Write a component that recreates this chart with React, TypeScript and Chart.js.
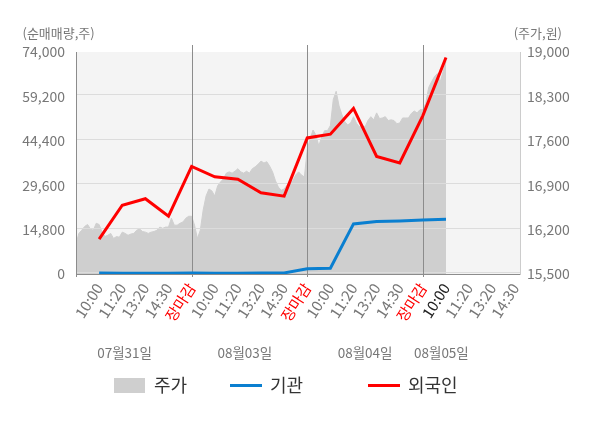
import { useEffect, useRef } from 'react';
import { Chart, registerables } from 'chart.js';

Chart.register(...registerables);

const FONT = '"Noto Sans CJK KR", "Noto Sans", sans-serif';

// x axis slots (one label per slot)
const timeLabels = [
  '10:00', '11:20', '13:20', '14:30', '장마감',
  '10:00', '11:20', '13:20', '14:30', '장마감',
  '10:00', '11:20', '13:20', '14:30', '장마감',
  '10:00', '11:20', '13:20', '14:30',
];
const dateLabels = ['07월31일', '08월03일', '08월04일', '08월05일'];
const currentSlot = 15;

// net buying (shares), one value per slot
const foreignNet = [11600, 22930, 25100, 19250, 35850, 32400, 31600, 27100, 25950, 45350, 46600, 55200, 39200, 37000, 52800, 72150];
const instNet = [300, 250, 280, 260, 300, 290, 280, 300, 350, 1750, 1950, 16700, 17500, 17700, 18000, 18250];

// intraday price (won), sampled evenly across each session
const priceDay1 = [15980, 16140, 16190, 16250, 16280, 16210, 16190, 16300, 16280, 16160, 16090, 16110, 16140, 16060, 16090, 16080, 16160, 16140, 16110, 16130, 16140, 16190, 16210, 16170, 16160, 16140, 16160, 16170, 16190, 16240, 16220, 16240, 16240, 16380, 16270, 16270, 16300, 16320, 16380, 16410];
const priceDay2 = [16410, 16270, 16060, 16190, 16510, 16730, 16840, 16810, 16730, 16890, 16950, 17000, 17090, 17110, 17090, 17120, 17160, 17110, 17090, 17120, 17090, 17160, 17190, 17230, 17280, 17250, 17270, 17200, 17110, 16970, 16870, 16820, 16840, 16900, 16930, 16970, 17060, 17110, 17060, 17030];
const priceDay3 = [17460, 17630, 17770, 17690, 17520, 17660, 17760, 17760, 17840, 18250, 18380, 18150, 18010, 17900, 17850, 17880, 17980, 17880, 17820, 17840, 17820, 17920, 17980, 17930, 18040, 17950, 17960, 17980, 17920, 17930, 17920, 17870, 17880, 17960, 17960, 17960, 18030, 18070, 18040, 18090];
const priceDay4 = [18090, 18190, 18440, 18530, 18610, 18660, 18530, 18690, 18850];

const SLOTS_PER_DAY = 5;
const SAMPLES_PER_DAY = 40;

// where the date captions sit on the slot axis
const datePos = [1.1, 6.3, 11.5, 14.8];

const GRAY = '#777';

export default function App() {
  const canvasRef = useRef<HTMLCanvasElement>(null);

  useEffect(() => {
    if (!canvasRef.current) return;

    const pricePoints = [priceDay1, priceDay2, priceDay3, priceDay4].flatMap((day, d) =>
      day.map((p, i) => ({ x: d * SLOTS_PER_DAY - 1 + (i * SLOTS_PER_DAY) / SAMPLES_PER_DAY, y: p }))
    );
    const closeSlots = timeLabels.map((l, i) => (l === '장마감' ? i : -1)).filter((i) => i >= 0);

    const bgPlugin = {
      id: 'plotBg',
      beforeDraw(chart: any) {
        const { ctx, chartArea: a } = chart;
        ctx.save();
        ctx.fillStyle = '#f4f4f4';
        ctx.fillRect(a.left, a.top, a.right - a.left, a.bottom - a.top);
        ctx.restore();
      },
    };

    // grid + day separators drawn over the price area, under the lines
    const gridPlugin = {
      id: 'gridOverArea',
      afterDatasetDraw(chart: any, args: any) {
        if (args.index !== 0) return;
        const { ctx, chartArea: a } = chart;
        const yL = chart.scales.yL;
        const xs = chart.scales.x;
        ctx.save();
        ctx.lineWidth = 1;
        ctx.strokeStyle = '#dcdcdc';
        yL.ticks.forEach((t: any) => {
          if (t.value >= yL.max) return;
          const y = Math.round(yL.getPixelForValue(t.value)) - 1.5;
          ctx.beginPath();
          ctx.moveTo(a.left, y);
          ctx.lineTo(a.right, y);
          ctx.stroke();
        });
        ctx.strokeStyle = '#8c8c8c';
        const by = Math.round(a.bottom) + 0.5;
        ctx.beginPath();
        ctx.moveTo(a.left, by);
        ctx.lineTo(a.right, by);
        ctx.stroke();
        closeSlots.forEach((v) => {
          const px = Math.round(xs.getPixelForValue(v)) + 0.5;
          ctx.beginPath();
          ctx.moveTo(px, a.top - 7);
          ctx.lineTo(px, a.bottom + 3);
          ctx.stroke();
        });
        ctx.beginPath();
        ctx.moveTo(Math.round(a.left) + 0.5, a.top);
        ctx.lineTo(Math.round(a.left) + 0.5, a.bottom + 3);
        ctx.stroke();
        ctx.restore();
      },
    };

    const textPlugin = {
      id: 'captions',
      afterDraw(chart: any) {
        const { ctx } = chart;
        const xs = chart.scales.x;
        ctx.save();
        ctx.fillStyle = GRAY;
        ctx.textBaseline = 'middle';
        ctx.font = `13px ${FONT}`;
        ctx.textAlign = 'left';
        ctx.fillText('(순매매량,주)', 14.5, 25);
        ctx.textAlign = 'right';
        ctx.fillText('(주가,원)', 554, 25);

        ctx.font = `13.5px ${FONT}`;
        ctx.textAlign = 'center';
        dateLabels.forEach((d, i) => {
          ctx.fillText(d, xs.getPixelForValue(datePos[i]), 345);
        });

        // legend
        const items = [
          { x: 106, kind: 'box' },
          { x: 222, kind: 'line' },
          { x: 360, kind: 'line' },
        ];
        const ly = 377.5;
        ctx.font = `18px ${FONT}`;
        ctx.textAlign = 'left';
        items.forEach((it, i) => {
          const ds: any = chart.data.datasets[i];
          if (it.kind === 'box') {
            ctx.fillStyle = ds.backgroundColor;
            ctx.fillRect(it.x, ly - 7.5, 31, 15);
          } else {
            ctx.strokeStyle = ds.borderColor;
            ctx.lineWidth = 3;
            ctx.beginPath();
            ctx.moveTo(it.x, ly);
            ctx.lineTo(it.x + 32, ly);
            ctx.stroke();
          }
          ctx.fillStyle = '#333';
          ctx.fillText(ds.label, it.x + 40, ly);
        });
        ctx.restore();
      },
    };

    const chart = new Chart(canvasRef.current, {
      type: 'line',
      data: {
        datasets: [
          {
            label: '주가',
            data: pricePoints,
            yAxisID: 'yR',
            borderColor: '#cfcfcf',
            borderWidth: 1,
            backgroundColor: '#cfcfcf',
            fill: 'start',
            pointRadius: 0,
            tension: 0,
            order: 3,
          },
          {
            label: '기관',
            data: instNet.map((v, i) => ({ x: i, y: v })),
            yAxisID: 'yL',
            borderColor: '#0a7fd0',
            borderWidth: 3,
            fill: false,
            pointRadius: 0,
            order: 2,
          },
          {
            label: '외국인',
            data: foreignNet.map((v, i) => ({ x: i, y: v })),
            yAxisID: 'yL',
            borderColor: '#ff0000',
            borderWidth: 3,
            fill: false,
            pointRadius: 0,
            order: 1,
          },
        ],
      },
      options: {
        animation: false,
        responsive: true,
        maintainAspectRatio: false,
        layout: { padding: { top: 44, left: 0, right: 0, bottom: 0 } },
        plugins: {
          legend: { display: false },
          tooltip: { enabled: false },
        },
        scales: {
          x: {
            type: 'linear',
            min: -1,
            max: 18.2,
            afterBuildTicks: (s: any) => {
              s.ticks = timeLabels.map((_, i) => ({ value: i }));
            },
            afterFit: (s: any) => {
              s.height = 146;
            },
            grid: { display: false, drawTicks: false },
            border: { display: false },
            ticks: {
              autoSkip: false,
              minRotation: 57,
              maxRotation: 57,
              padding: 6,
              font: { family: FONT, size: 15 },
              color: (c: any) =>
                timeLabels[c.index] === '장마감' ? '#ff0000' : c.index === currentSlot ? '#222' : GRAY,
              callback: (v: any) => timeLabels[v] ?? '',
            },
          },
          yL: {
            position: 'left',
            min: 0,
            max: 74000,
            afterFit: (s: any) => {
              s.width = 68;
            },
            grid: { display: false, drawTicks: false },
            border: { display: false },
            ticks: {
              stepSize: 14800,
              padding: 11,
              font: { family: FONT, size: 14 },
              color: GRAY,
              callback: (v: any) => Number(v).toLocaleString('en-US'),
            },
          },
          yR: {
            position: 'right',
            min: 15500,
            max: 19000,
            afterFit: (s: any) => {
              s.width = 72;
            },
            grid: { display: false, drawTicks: false },
            border: { display: true, color: '#cccccc' },
            ticks: {
              stepSize: 700,
              padding: 7,
              font: { family: FONT, size: 14 },
              color: GRAY,
              callback: (v: any) => Number(v).toLocaleString('en-US'),
            },
          },
        },
      },
      plugins: [bgPlugin, gridPlugin, textPlugin],
    });

    return () => {
      chart.destroy();
    };
  }, []);

  return (
    <div style={{ width: 584, height: 412, position: 'relative' }}>
      <canvas ref={canvasRef}></canvas>
    </div>
  );
}
